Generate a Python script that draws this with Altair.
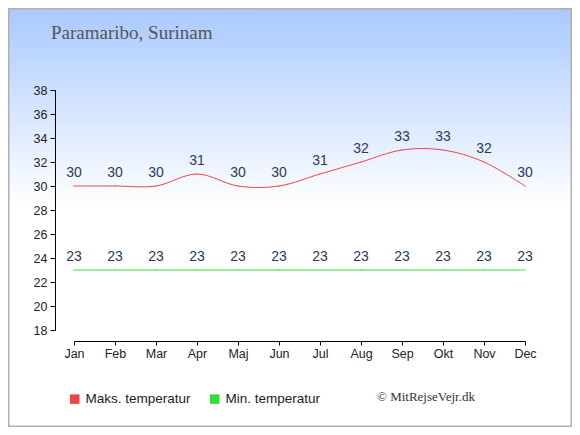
import altair as alt
import pandas as pd

months = ["Jan", "Feb", "Mar", "Apr", "Maj", "Jun", "Jul", "Aug", "Sep", "Okt", "Nov", "Dec"]
max_temp = [30, 30, 30, 31, 30, 30, 31, 32, 33, 33, 32, 30]
min_temp = [23, 23, 23, 23, 23, 23, 23, 23, 23, 23, 23, 23]
series_names = ["Maks. temperatur", "Min. temperatur"]
series_colors = ["#f04444", "#33dd33"]
title_text = "Paramaribo, Surinam"
credit_text = "© MitRejseVejr.dk"

rows = []
for m, v in zip(months, max_temp):
    rows.append({"month": m, "series": series_names[0], "temp": v})
for m, v in zip(months, min_temp):
    rows.append({"month": m, "series": series_names[1], "temp": v})
df = pd.DataFrame(rows)

W, H = 451, 240
PL, PT, PR, PB = 66, 82, 47, 97

x_enc = alt.X(
    "month:N",
    sort=months,
    scale=alt.Scale(type="point", domain=months, padding=0),
    title=None,
    axis=alt.Axis(
        offset=11, tickSize=4, labelPadding=2, domainColor="#000", tickColor="#000",
        labelFont="Liberation Sans", labelFontSize=12.5, labelColor="#222", labelAngle=0,
        grid=False, zindex=2,
    ),
)
y_enc = alt.Y(
    "temp:Q",
    scale=alt.Scale(domain=[18, 38], nice=False, zero=False),
    title=None,
    axis=alt.Axis(
        values=list(range(18, 39, 2)), offset=19, tickSize=5, labelPadding=3,
        domainColor="#000", tickColor="#000", labelFont="Liberation Sans",
        labelFontSize=12.5, labelColor="#222", grid=False, zindex=2,
    ),
)

legend = alt.Legend(
    title=None, orient="none", direction="horizontal", legendX=-6, legendY=302,
    symbolType="square", symbolSize=90, symbolStrokeWidth=0, symbolOpacity=1, padding=0,
    labelFont="Liberation Sans", labelFontSize=13.5, labelColor="#222",
    labelOffset=4, columnPadding=17, labelLimit=300, zindex=2,
)
color_scale = alt.Scale(domain=series_names, range=series_colors)

bg = alt.Chart(alt.Data(values=[{"k": 1}])).mark_rect(
    fill=alt.Gradient(
        gradient="linear", x1=0, y1=0, x2=0, y2=1,
        stops=[alt.GradientStop(offset=0, color="#a9c9ff"),
               alt.GradientStop(offset=0.47, color="#ffffff"),
               alt.GradientStop(offset=1, color="#ffffff")],
    ),
    stroke="#b0b0b0", strokeWidth=1.5,
).encode(
    x=alt.value(-PL + 0.75), x2=alt.value(W + PR - 0.75),
    y=alt.value(-PT + 0.75), y2=alt.value(H + PB - 0.75),
)

base = alt.Chart(df)

pts = base.mark_point(filled=True, shape="square", size=1, strokeWidth=0, opacity=1).encode(
    x=x_enc, y=y_enc,
    color=alt.Color("series:N", scale=color_scale, legend=legend),
)

lines = base.mark_line(interpolate="cardinal", strokeWidth=1).encode(
    x=x_enc, y=y_enc,
    color=alt.Color("series:N", scale=color_scale, legend=legend),
)

labels = base.mark_text(
    font="Liberation Sans", fontSize=14, color="#2a3b5b", dy=-13.5, baseline="middle"
).encode(x=x_enc, y=y_enc, text="temp:Q")

title = alt.Chart(alt.Data(values=[{"t": title_text}])).mark_text(
    font="Liberation Serif", fontSize=19, color="#555555", align="left", baseline="alphabetic"
).encode(x=alt.value(-23), y=alt.value(-51.5), text="t:N")

credit = alt.Chart(alt.Data(values=[{"t": credit_text}])).mark_text(
    font="Liberation Serif", fontSize=13, color="#333333", align="left", baseline="middle"
).encode(x=alt.value(303), y=alt.value(307), text="t:N")

chart = alt.layer(bg, pts, lines, labels, title, credit).properties(
    width=W, height=H,
    padding={"left": PL, "top": PT, "right": PR, "bottom": PB},
    autosize="none",
    background="#ffffff",
).configure_view(strokeWidth=0)

chart.save("out.html", embed_options={"renderer": "svg", "actions": False})
